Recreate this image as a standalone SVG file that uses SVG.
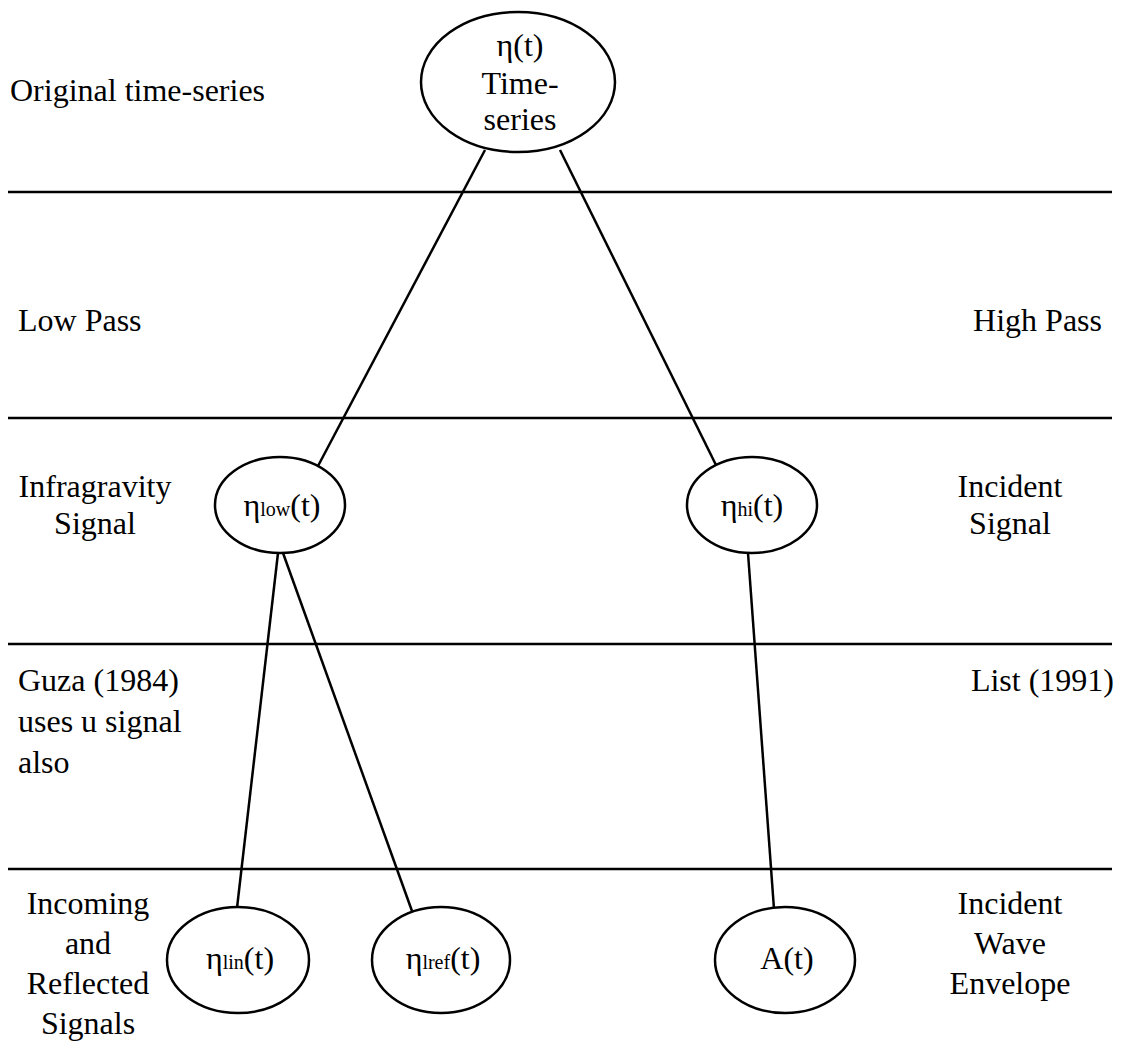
<svg xmlns="http://www.w3.org/2000/svg" width="1122" height="1051" viewBox="0 0 1122 1051" font-family="'Liberation Serif', 'DejaVu Serif', serif">
<style>
text{font-family:"Liberation Serif","DejaVu Serif",serif;font-size:32px;fill:#000}
.c{text-anchor:middle}
.sub{font-size:20px}
ellipse{fill:#fff;stroke:#000;stroke-width:2.5}
line{stroke:#000;stroke-width:2.5}
</style>
<rect width="1122" height="1051" fill="#fff"/>
<g id="dividers">
<line x1="8" y1="192" x2="1112" y2="192"/>
<line x1="8" y1="418" x2="1112" y2="418"/>
<line x1="8" y1="644" x2="1112" y2="644"/>
<line x1="8" y1="869" x2="1112" y2="869"/>
</g>
<g id="connectors">
<line x1="485" y1="150" x2="318" y2="466"/>
<line x1="560" y1="150" x2="716" y2="465"/>
<line x1="278" y1="553" x2="237" y2="908"/>
<line x1="283" y1="553" x2="412" y2="911"/>
<line x1="748" y1="553" x2="774" y2="909"/>
</g>
<g id="labels">
<text x="10" y="101">Original time-series</text>
<text x="18" y="331">Low Pass</text>
<text x="1102" y="331" text-anchor="end">High Pass</text>
<text class="c" x="95" y="497">Infragravity</text>
<text class="c" x="95" y="534">Signal</text>
<text class="c" x="1010" y="497">Incident</text>
<text class="c" x="1010" y="534">Signal</text>
<text x="18" y="691">Guza (1984)</text>
<text x="18" y="732">uses u signal</text>
<text x="18" y="773">also</text>
<text x="1114" y="691" text-anchor="end">List (1991)</text>
<text class="c" x="88" y="914">Incoming</text>
<text class="c" x="88" y="954">and</text>
<text class="c" x="88" y="994">Reflected</text>
<text class="c" x="88" y="1034">Signals</text>
<text class="c" x="1010" y="914">Incident</text>
<text class="c" x="1010" y="954">Wave</text>
<text class="c" x="1010" y="994">Envelope</text>
</g>
<g id="node-eta">
<ellipse cx="518" cy="82" rx="97" ry="70"/>
<text class="c" x="520" y="56">η(t)</text>
<text class="c" x="520" y="94">Time-</text>
<text class="c" x="520" y="130">series</text>
</g>
<g id="node-eta-low">
<ellipse cx="280" cy="505" rx="65" ry="48"/>
<text class="c" x="282" y="516">η<tspan class="sub">low</tspan>(t)</text>
</g>
<g id="node-eta-hi">
<ellipse cx="752" cy="505" rx="65" ry="48"/>
<text class="c" x="752" y="516">η<tspan class="sub">hi</tspan>(t)</text>
</g>
<g id="node-eta-lin">
<ellipse cx="238" cy="960" rx="71" ry="53"/>
<text class="c" x="240" y="969">η<tspan class="sub">lin</tspan>(t)</text>
</g>
<g id="node-eta-lref">
<ellipse cx="441" cy="960" rx="69" ry="53"/>
<text class="c" x="443" y="969">η<tspan class="sub">lref</tspan>(t)</text>
</g>
<g id="node-a">
<ellipse cx="785" cy="960" rx="70" ry="53"/>
<text class="c" x="787" y="969">A(t)</text>
</g>
</svg>
